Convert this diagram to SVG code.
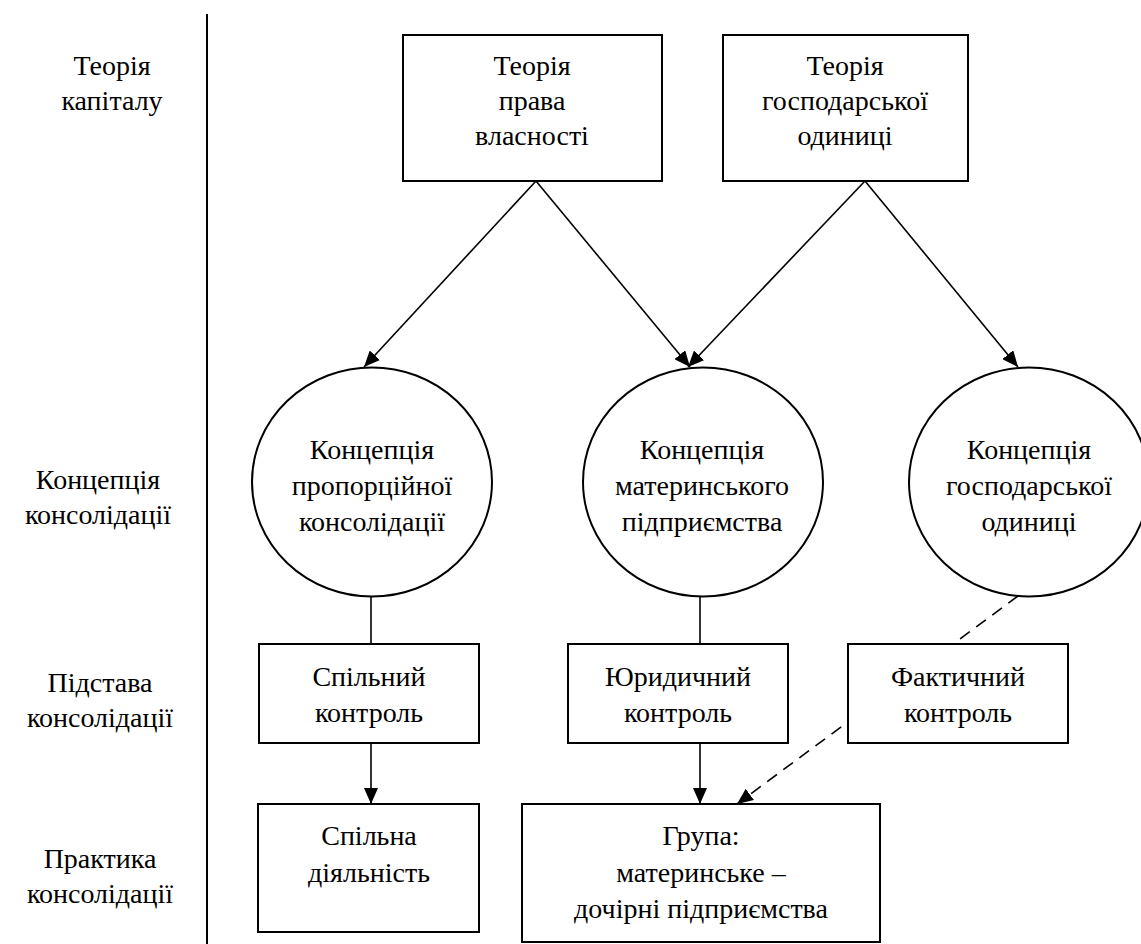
<svg xmlns="http://www.w3.org/2000/svg" width="1141" height="944" viewBox="0 0 1141 944">
  <style>
    .box { fill: #ffffff; stroke: #000000; stroke-width: 2; }
    .edge { stroke: #000000; stroke-width: 1.6; fill: none; }
    .dash { stroke-dasharray: 12 8; }
  </style>
  <defs>
    <marker id="arrowBig" viewBox="0 0 16 14" refX="16" refY="7" markerWidth="16" markerHeight="14" markerUnits="userSpaceOnUse" orient="auto">
      <path d="M0,0 L16,7 L0,14 z" fill="#000000"/>
    </marker>
  </defs>

  <g font-family="Liberation Serif, DejaVu Serif, serif" font-size="28" text-anchor="middle" fill="#000000">
  <!-- level captions and divider -->
  <g id="levels">
    <line x1="207" y1="14" x2="207" y2="944" stroke="#000000" stroke-width="2"/>
    <text x="112" y="75">Теорія</text>
    <text x="112" y="110">капіталу</text>
    <text x="98" y="489">Концепція</text>
    <text x="98" y="524">консолідації</text>
    <text x="100" y="692">Підстава</text>
    <text x="100" y="727">консолідації</text>
    <text x="100" y="868">Практика</text>
    <text x="100" y="903">консолідації</text>
  </g>

  <!-- connectors -->
  <g id="connectors">
    <line class="edge" x1="536" y1="181" x2="364" y2="367" marker-end="url(#arrowBig)"/>
    <line class="edge" x1="536" y1="181" x2="690" y2="367" marker-end="url(#arrowBig)"/>
    <line class="edge" x1="865" y1="181" x2="688" y2="367" marker-end="url(#arrowBig)"/>
    <line class="edge" x1="865" y1="181" x2="1018" y2="367" marker-end="url(#arrowBig)"/>
    <line class="edge" x1="371" y1="596" x2="371" y2="644"/>
    <line class="edge" x1="700" y1="596" x2="700" y2="644"/>
    <line class="edge" x1="371" y1="743" x2="371" y2="804" marker-end="url(#arrowBig)"/>
    <line class="edge" x1="700" y1="743" x2="700" y2="804" marker-end="url(#arrowBig)"/>
    <line class="edge dash" x1="1018" y1="596" x2="737" y2="804" marker-end="url(#arrowBig)"/>
  </g>

  <!-- theories -->
  <g id="theory-property">
    <rect class="box" x="403" y="35" width="259" height="146"/>
    <text x="532" y="75">Теорія</text>
    <text x="532" y="110">права</text>
    <text x="532" y="145">власності</text>
  </g>
  <g id="theory-entity">
    <rect class="box" x="723" y="35" width="245" height="146"/>
    <text x="845" y="75">Теорія</text>
    <text x="845" y="110">господарської</text>
    <text x="845" y="145">одиниці</text>
  </g>

  <!-- concepts -->
  <g id="concept-proportional">
    <ellipse class="box" cx="372" cy="482" rx="120" ry="114.5"/>
    <text x="372" y="459">Концепція</text>
    <text x="372" y="495">пропорційної</text>
    <text x="372" y="531">консолідації</text>
  </g>
  <g id="concept-parent">
    <ellipse class="box" cx="703" cy="482" rx="120" ry="114.5"/>
    <text x="702" y="459">Концепція</text>
    <text x="702" y="495">материнського</text>
    <text x="702" y="531">підприємства</text>
  </g>
  <g id="concept-entity">
    <ellipse class="box" cx="1029" cy="482" rx="120" ry="114.5"/>
    <text x="1029" y="459">Концепція</text>
    <text x="1029" y="495">господарської</text>
    <text x="1029" y="531">одиниці</text>
  </g>

  <!-- control bases -->
  <g id="joint-control">
    <rect class="box" x="259" y="644" width="220" height="99"/>
    <text x="369" y="686">Спільний</text>
    <text x="369" y="722">контроль</text>
  </g>
  <g id="legal-control">
    <rect class="box" x="568" y="644" width="220" height="99"/>
    <text x="678" y="686">Юридичний</text>
    <text x="678" y="722">контроль</text>
  </g>
  <g id="de-facto-control">
    <rect class="box" x="848" y="644" width="220" height="99"/>
    <text x="958" y="686">Фактичний</text>
    <text x="958" y="722">контроль</text>
  </g>

  <!-- practice -->
  <g id="joint-activity">
    <rect class="box" x="258" y="804" width="221" height="128"/>
    <text x="369" y="845">Спільна</text>
    <text x="369" y="882">діяльність</text>
  </g>
  <g id="group">
    <rect class="box" x="522" y="804" width="358" height="138"/>
    <text x="701" y="845">Група:</text>
    <text x="701" y="882">материнське –</text>
    <text x="701" y="918">дочірні підприємства</text>
  </g>
  </g>
</svg>
